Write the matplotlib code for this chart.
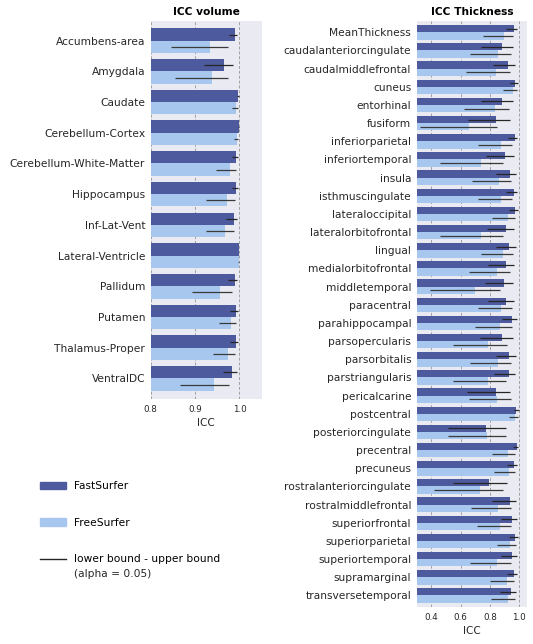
import numpy as np
import matplotlib
matplotlib.use("Agg")
import matplotlib.pyplot as plt
from matplotlib.patches import Patch
from matplotlib.lines import Line2D

# ---- volume ICC (left panel) ----
vol_names = ["Accumbens-area", "Amygdala", "Caudate", "Cerebellum-Cortex",
             "Cerebellum-White-Matter", "Hippocampus", "Inf-Lat-Vent",
             "Lateral-Ventricle", "Pallidum", "Putamen", "Thalamus-Proper", "VentralDC"]
vol_fast = [0.990, 0.965, 0.997, 0.998, 0.993, 0.993, 0.987, 0.999, 0.989, 0.991, 0.991, 0.984]
vol_fast_lo = [0.976, 0.919, 0.995, 0.996, 0.984, 0.984, 0.969, 0.998, 0.974, 0.979, 0.979, 0.963]
vol_fast_hi = [0.995, 0.986, 0.999, 0.999, 0.996, 0.996, 0.995, 1.000, 0.995, 0.996, 0.996, 0.994]
vol_free = [0.934, 0.938, 0.993, 0.995, 0.979, 0.972, 0.968, 0.998, 0.955, 0.981, 0.975, 0.943]
vol_free_lo = [0.845, 0.855, 0.984, 0.987, 0.948, 0.925, 0.925, 0.996, 0.894, 0.953, 0.940, 0.867]
vol_free_hi = [0.974, 0.975, 0.996, 0.997, 0.991, 0.990, 0.987, 0.999, 0.982, 0.992, 0.990, 0.977]

# ---- thickness ICC (right panel) ----
thk_names = ["MeanThickness", "caudalanteriorcingulate", "caudalmiddlefrontal", "cuneus",
             "entorhinal", "fusiform", "inferiorparietal", "inferiortemporal", "insula",
             "isthmuscingulate", "lateraloccipital", "lateralorbitofrontal", "lingual",
             "medialorbitofrontal", "middletemporal", "paracentral", "parahippocampal",
             "parsopercularis", "parsorbitalis", "parstriangularis", "pericalcarine",
             "postcentral", "posteriorcingulate", "precentral", "precuneus",
             "rostralanteriorcingulate", "rostralmiddlefrontal", "superiorfrontal",
             "superiorparietal", "superiortemporal", "supramarginal", "transversetemporal"]
thk_fast = [0.964, 0.884, 0.925, 0.973, 0.884, 0.843, 0.968, 0.905, 0.936, 0.964,
            0.970, 0.907, 0.932, 0.909, 0.898, 0.909, 0.950, 0.882, 0.932, 0.927,
            0.841, 0.980, 0.775, 0.982, 0.966, 0.793, 0.934, 0.950, 0.973, 0.948,
            0.966, 0.943]
thk_fast_lo = [0.911, 0.736, 0.820, 0.934, 0.736, 0.650, 0.923, 0.775, 0.839, 0.911,
               0.927, 0.780, 0.841, 0.786, 0.766, 0.786, 0.884, 0.732, 0.843, 0.830,
               0.645, 0.961, 0.511, 0.955, 0.914, 0.550, 0.816, 0.877, 0.927, 0.877,
               0.914, 0.866]
thk_fast_hi = [0.986, 0.955, 0.970, 0.991, 0.955, 0.934, 0.986, 0.961, 0.977, 0.984,
               0.989, 0.961, 0.975, 0.964, 0.959, 0.964, 0.982, 0.955, 0.975, 0.973,
               0.934, 0.995, 0.907, 0.993, 0.986, 0.916, 0.975, 0.982, 0.989, 0.982,
               0.986, 0.980]
thk_free = [0.893, 0.855, 0.841, 0.957, 0.832, 0.657, 0.873, 0.739, 0.861, 0.875,
            0.923, 0.739, 0.889, 0.848, 0.700, 0.873, 0.868, 0.786, 0.852, 0.786,
            0.850, 0.970, 0.777, 0.923, 0.927, 0.734, 0.855, 0.870, 0.934, 0.848,
            0.916, 0.920]
thk_free_lo = [0.755, 0.664, 0.636, 0.891, 0.623, 0.323, 0.718, 0.459, 0.675, 0.718,
               0.816, 0.459, 0.741, 0.659, 0.389, 0.718, 0.700, 0.545, 0.664, 0.545,
               0.657, 0.932, 0.516, 0.811, 0.827, 0.420, 0.670, 0.709, 0.848, 0.664,
               0.802, 0.807]
thk_free_hi = [0.955, 0.941, 0.934, 0.982, 0.932, 0.848, 0.950, 0.886, 0.943, 0.950,
               0.970, 0.886, 0.955, 0.939, 0.870, 0.950, 0.948, 0.914, 0.941, 0.911,
               0.941, 0.989, 0.907, 0.970, 0.970, 0.891, 0.941, 0.945, 0.975, 0.941,
               0.966, 0.968]

legend_labels = ["FastSurfer", "FreeSurfer", "lower bound - upper bound"]
legend_note = "(alpha = 0.05)"

FAST_COL = "#4e5a9e"
FREE_COL = "#a7c7ee"
FS = 7.7

plt.rcParams["font.family"] = "DejaVu Sans"
fig = plt.figure(figsize=(5.33, 6.44), dpi=100)

def draw(ax, names, fast, flo, fhi, free, rlo, rhi, xlim, ticks, title, ymargin):
    n = len(names)
    y = np.arange(n)
    h = 0.4
    ax.set_facecolor("#eaeaf2")
    ax.barh(y - h / 2, fast, height=h, color=FAST_COL, zorder=2)
    ax.barh(y + h / 2, free, height=h, color=FREE_COL, zorder=2)
    ax.hlines(y - h / 2, flo, fhi, color="#262626", lw=0.9, zorder=3)
    ax.hlines(y + h / 2, rlo, rhi, color="#3a3a3a", lw=0.9, zorder=3)
    ax.set_yticks(y)
    ax.set_yticklabels(names, fontsize=FS, color="#262626")
    ax.set_ylim(n - 1 + 0.4 + ymargin[1], -0.4 - ymargin[0])
    ax.set_xlim(*xlim)
    ax.set_xticks(ticks)
    ax.set_xticklabels([f"{t:.1f}" for t in ticks], fontsize=6.3, color="#262626")
    ax.tick_params(length=0, pad=4)
    ax.xaxis.grid(True, color="#a0a0a0", ls=(0, (3, 2)), lw=0.7, zorder=1)
    ax.set_axisbelow(True)
    for s in ax.spines.values():
        s.set_visible(False)
    ax.set_xlabel("ICC", fontsize=7.5, color="#262626", labelpad=3)
    ax.set_title(title, fontsize=FS, fontweight="bold", pad=4)

ax1 = fig.add_axes([150.7 / 533, 1 - 399.3 / 644, 111 / 533, 378.6 / 644])
draw(ax1, vol_names, vol_fast, vol_fast_lo, vol_fast_hi, vol_free, vol_free_lo, vol_free_hi,
     (0.8, 1.05), [0.8, 0.9, 1.0], "ICC volume", (0.25, 0.28))

ax2 = fig.add_axes([416.7 / 533, 1 - 607.3 / 644, 110.6 / 533, 586.6 / 644])
draw(ax2, thk_names, thk_fast, thk_fast_lo, thk_fast_hi, thk_free, thk_free_lo, thk_free_hi,
     (0.3, 1.055), [0.4, 0.6, 0.8, 1.0], "ICC Thickness", (0.24, 0.25))

handles = [Patch(color=FAST_COL), Patch(color=FREE_COL), Line2D([], [], color="#262626", lw=1.0)]
leg = fig.legend(handles, legend_labels, loc="upper left",
                 bbox_to_anchor=(40 / 533, 1 - 481 / 644),
                 frameon=False, fontsize=FS, borderpad=0, borderaxespad=0,
                 handlelength=2.4, handletextpad=0.8, labelspacing=2.5)

# second line of the last legend entry, under its first line
fig.canvas.draw()
tb = leg.get_texts()[-1].get_window_extent()
fig.text(tb.x0 / 533, (tb.y0 - 15) / 644 + 0.0, legend_note, fontsize=FS,
         color="#262626", va="bottom", ha="left")

fig.savefig("out.png", dpi=100)
